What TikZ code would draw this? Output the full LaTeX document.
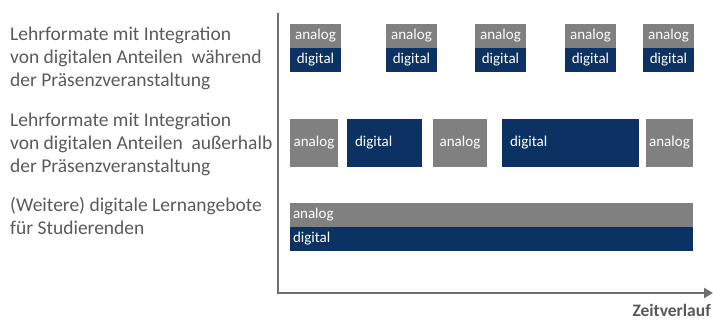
\documentclass[tikz,border=0pt]{standalone}
\usepackage{fontspec}
\setmainfont{Carlito}
\usetikzlibrary{arrows.meta}
\definecolor{grau}{HTML}{808080}
\definecolor{dunkelblau}{HTML}{0C3263}
\definecolor{textgrau}{HTML}{5A5A5A}
\definecolor{achsengrau}{HTML}{6E6E6E}
\tikzset{%
    kasten/.style={%
        inner sep=0pt, outer sep=0pt, text=white,
        font=\fontsize{15}{17}\selectfont, anchor=north west
    },
    analogbox/.style={kasten, fill=grau},
    digitalbox/.style={kasten, fill=dunkelblau},
    beschriftung/.style={%
        anchor=north west, align=left, inner sep=0pt, text=textgrau,
        font=\fontsize{19.5}{23}\selectfont
    }
}

\begin{document}
\begin{tikzpicture}[x=1pt,y=-1pt]
    \useasboundingbox (0,0) rectangle (713,320);
    % Achsen
    \coordinate (oben) at (278,13);
    \coordinate (ende) at (713,293);
    \draw[achsengrau, line width=2.2pt, -{Triangle[length=9pt,width=10pt]}]
        (oben) |- (ende);
    \node[anchor=base east, inner sep=0pt, text=achsengrau!80!black,
        font=\fontsize{17.5}{19}\bfseries] (zeit) at (711,317) {Zeitverlauf};
    % Beschriftungen links
    \node[beschriftung] (zeile1) at (10,27) {Lehrformate mit Integration\\
        von digitalen Anteilen~ während\\der Präsenzveranstaltung};
    \node[beschriftung] (zeile2) at (10,113) {Lehrformate mit Integration\\
        von digitalen Anteilen~ außerhalb\\der Präsenzveranstaltung};
    \node[beschriftung] (zeile3) at (10,197) {(Weitere) digitale Lernangebote\\
        für Studierenden};
    % Reihe 1: während
    \foreach \x [count=\i] in {290,386,475,565,643}
    {
    \node[analogbox, minimum width=51pt, minimum height=24pt] (a\i) at (\x,24) {analog};
    \node[digitalbox, minimum width=51pt, minimum height=24pt] (d\i) at (\x,48) {digital};
    }
    % Reihe 2: außerhalb
    \node[analogbox, minimum width=48pt, minimum height=48pt] (b1) at (290,119) {analog};
    \node[digitalbox, minimum width=75pt, minimum height=48pt, text width=59pt,
        inner xsep=8pt, align=left] (b2) at (347,119) {digital};
    \node[analogbox, minimum width=54pt, minimum height=48pt] (b3) at (433,119) {analog};
    \node[digitalbox, minimum width=137pt, minimum height=48pt, text width=121pt,
        inner xsep=8pt, align=left] (b4) at (502,119) {digital};
    \node[analogbox, minimum width=47pt, minimum height=48pt] (b5) at (646,119) {analog};
    % Reihe 3: weitere Angebote
    \node[analogbox, minimum width=403pt, minimum height=24pt, text width=397pt,
        inner xsep=3pt, align=left] (c1) at (290,203) {analog};
    \node[digitalbox, minimum width=403pt, minimum height=24pt, text width=397pt,
        inner xsep=3pt, align=left] (c2) at (290,227) {digital};
\end{tikzpicture}
\end{document}
